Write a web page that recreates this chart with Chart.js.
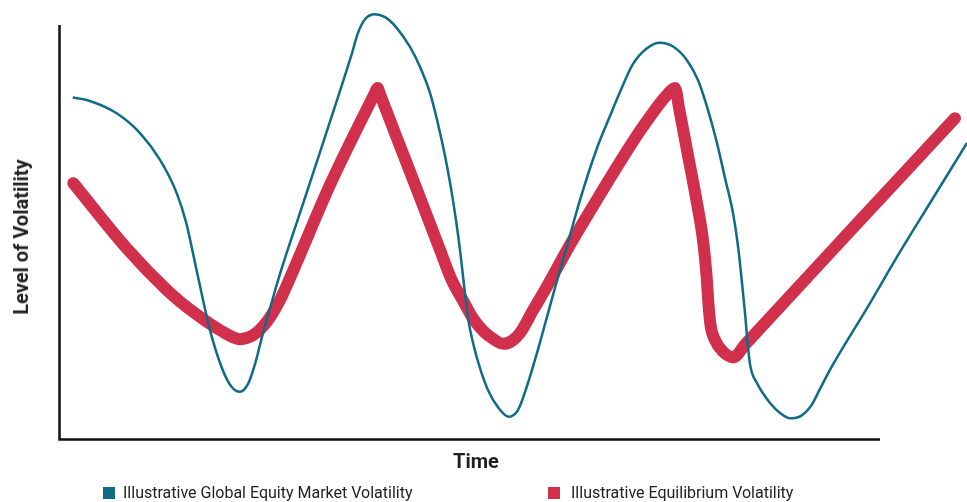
<!DOCTYPE html>
<html>
<head>
<meta charset="utf-8">
<script src="https://cdn.jsdelivr.net/npm/chart.js@4.4.1/dist/chart.umd.min.js"></script>
<style>
  html, body { margin: 0; padding: 0; background: #fff; }
  #wrap { position: relative; width: 967px; height: 502px; overflow: hidden; }
  #chart { position: absolute; left: 0; top: 0; }
  .swatch { position: absolute; width: 12px; height: 12px; }
  .key { position: absolute; font: 16px Roboto, "Noto Sans", sans-serif; line-height: 16px; color: #222; white-space: nowrap; }
  .axis-title { position: absolute; font: bold 20px Roboto, "Noto Sans", sans-serif; line-height: 24px; color: #231f20; white-space: nowrap; transform-origin: center center; }
</style>
</head>
<body>
<div id="wrap">
  <canvas id="chart" width="967" height="502"></canvas>
  <div class="axis-title" id="yTitle" style="left:20.5px;top:237px;transform:translate(-50%,-50%) rotate(-90deg)">Level of Volatility</div>
  <div class="axis-title" id="xTitle" style="left:476px;top:461px;transform:translate(-50%,-50%)">Time</div>
</div>
<script>
// Series names and colours
const seriesNames = ['Illustrative Global Equity Market Volatility', 'Illustrative Equilibrium Volatility'];
const seriesColors = ['#0f6b86', '#d1304c'];

// Global equity market volatility (time, level)
const marketTime = [1.55, 3.26, 6.91, 9.76, 12.20, 14.23, 15.37, 16.71, 18.29, 19.76, 20.85, 21.95, 22.93, 23.78, 24.63, 25.73, 26.83, 29.27, 31.71, 34.15, 35.61, 36.34, 37.20, 38.41, 39.63, 40.98, 42.68, 43.90, 45.12, 46.10, 46.95, 47.68, 48.29, 48.78, 49.27, 49.76, 50.37, 51.22, 52.20, 53.41, 54.70, 55.85, 56.95, 58.17, 59.39, 60.49, 61.71, 63.41, 65.49, 67.07, 68.29, 69.88, 71.59, 73.17, 74.76, 76.46, 77.80, 79.02, 80.12, 81.10, 82.07, 82.74, 83.17, 83.54, 83.90, 84.21, 85.00, 86.59, 87.80, 89.02, 90.37, 91.59, 92.68, 93.90, 95.37, 98.29, 102.20, 106.10, 110.61];
const marketLevel = [82.5, 81.9, 78.7, 73.9, 67.4, 59.4, 52.4, 40.3, 26.3, 17.1, 12.8, 11.4, 13.3, 18.1, 24.6, 32.4, 39.9, 54.6, 69.3, 84.1, 93.2, 98.1, 101.4, 102.6, 101.9, 99.5, 94.7, 89.9, 83.6, 76.1, 68.4, 60.6, 52.9, 45.7, 37.2, 29.2, 23.2, 17.1, 11.8, 7.7, 5.4, 7.0, 12.8, 20.8, 29.5, 37.4, 45.7, 57.7, 70.3, 78.0, 83.8, 90.6, 94.4, 95.7, 94.8, 91.5, 86.7, 79.5, 71.5, 63.0, 54.6, 45.7, 37.7, 30.4, 22.2, 17.4, 13.5, 8.7, 6.3, 5.0, 5.6, 8.0, 12.1, 16.7, 21.7, 31.2, 44.4, 57.0, 71.5];

// Equilibrium volatility (time, level)
const equilibriumTime = [1.62, 8.29, 13.01, 14.63, 17.07, 19.51, 21.95, 23.57, 25.21, 26.83, 28.05, 32.93, 38.41, 38.72, 39.02, 40.85, 44.02, 46.34, 47.77, 49.18, 50.40, 51.62, 52.80, 54.06, 55.12, 56.10, 57.72, 59.35, 62.20, 65.45, 68.29, 70.73, 72.56, 74.02, 75.00, 75.49, 76.46, 77.68, 78.41, 78.84, 79.09, 79.33, 79.88, 80.85, 82.11, 83.54, 96.34, 109.15];
const equilibriumLevel = [61.8, 45.7, 36.0, 33.2, 29.5, 26.3, 24.1, 25.1, 28.3, 33.6, 38.9, 61.4, 83.6, 84.8, 83.3, 73.9, 57.7, 45.7, 38.4, 33.3, 29.0, 26.1, 24.2, 23.0, 23.7, 25.6, 31.2, 36.7, 46.9, 57.7, 66.9, 74.4, 79.5, 83.1, 84.8, 80.0, 69.8, 57.0, 48.1, 39.6, 32.4, 27.5, 23.9, 21.1, 19.7, 22.8, 50.2, 77.5];

// Where the drawn time axis stops
const timeAxisEnd = 100;

const toPoints = (xs, ys) => xs.map((x, i) => ({ x, y: ys[i] }));

// Axis lines: the time axis stops short of the right edge while the series run on
const axisLines = {
  id: 'axisLines',
  beforeDatasetsDraw(chart) {
    const { ctx, chartArea, scales } = chart;
    const xEnd = scales.x.getPixelForValue(timeAxisEnd);
    ctx.save();
    ctx.strokeStyle = '#111';
    ctx.lineWidth = 2.5;
    ctx.lineCap = 'butt';
    ctx.beginPath();
    ctx.moveTo(chartArea.left - 0.5, chartArea.top);
    ctx.lineTo(chartArea.left - 0.5, chartArea.bottom + 1.75);
    ctx.moveTo(chartArea.left - 1.75, chartArea.bottom + 0.5);
    ctx.lineTo(xEnd, chartArea.bottom + 0.5);
    ctx.stroke();
    ctx.restore();
  }
};

const chart = new Chart(document.getElementById('chart'), {
  type: 'line',
  data: {
    datasets: [
      {
        label: seriesNames[0],
        data: toPoints(marketTime, marketLevel),
        borderColor: seriesColors[0],
        backgroundColor: seriesColors[0],
        borderWidth: 2.5,
        cubicInterpolationMode: 'monotone',
        clip: false
      },
      {
        label: seriesNames[1],
        data: toPoints(equilibriumTime, equilibriumLevel),
        borderColor: seriesColors[1],
        backgroundColor: seriesColors[1],
        borderWidth: 12,
        borderCapStyle: 'round',
        borderJoinStyle: 'round',
        cubicInterpolationMode: 'monotone',
        clip: false
      }
    ]
  },
  options: {
    responsive: false,
    animation: false,
    devicePixelRatio: 1,
    layout: { padding: { left: 60, top: 25, right: 0, bottom: 63 } },
    elements: {
      point: { radius: 0, hoverRadius: 0 },
      line: { capBezierPoints: false }
    },
    plugins: {
      legend: { display: false },
      tooltip: { enabled: false }
    },
    events: [],
    scales: {
      x: { type: 'linear', display: false, min: 0, bounds: 'data' },
      y: { type: 'linear', display: false, min: 0, max: 100 }
    }
  },
  plugins: [axisLines]
});

// Legend row under the plot
const legendSpots = [{ swatch: 103, text: 123 }, { swatch: 548, text: 571 }];
const wrap = document.getElementById('wrap');
chart.data.datasets.forEach((ds, i) => {
  const sw = document.createElement('div');
  sw.className = 'swatch';
  sw.style.left = legendSpots[i].swatch + 'px';
  sw.style.top = '487px';
  sw.style.background = ds.borderColor;
  wrap.appendChild(sw);
  const key = document.createElement('div');
  key.className = 'key';
  key.style.left = legendSpots[i].text + 'px';
  key.style.top = '485px';
  key.textContent = ds.label;
  wrap.appendChild(key);
});
</script>
</body>
</html>
